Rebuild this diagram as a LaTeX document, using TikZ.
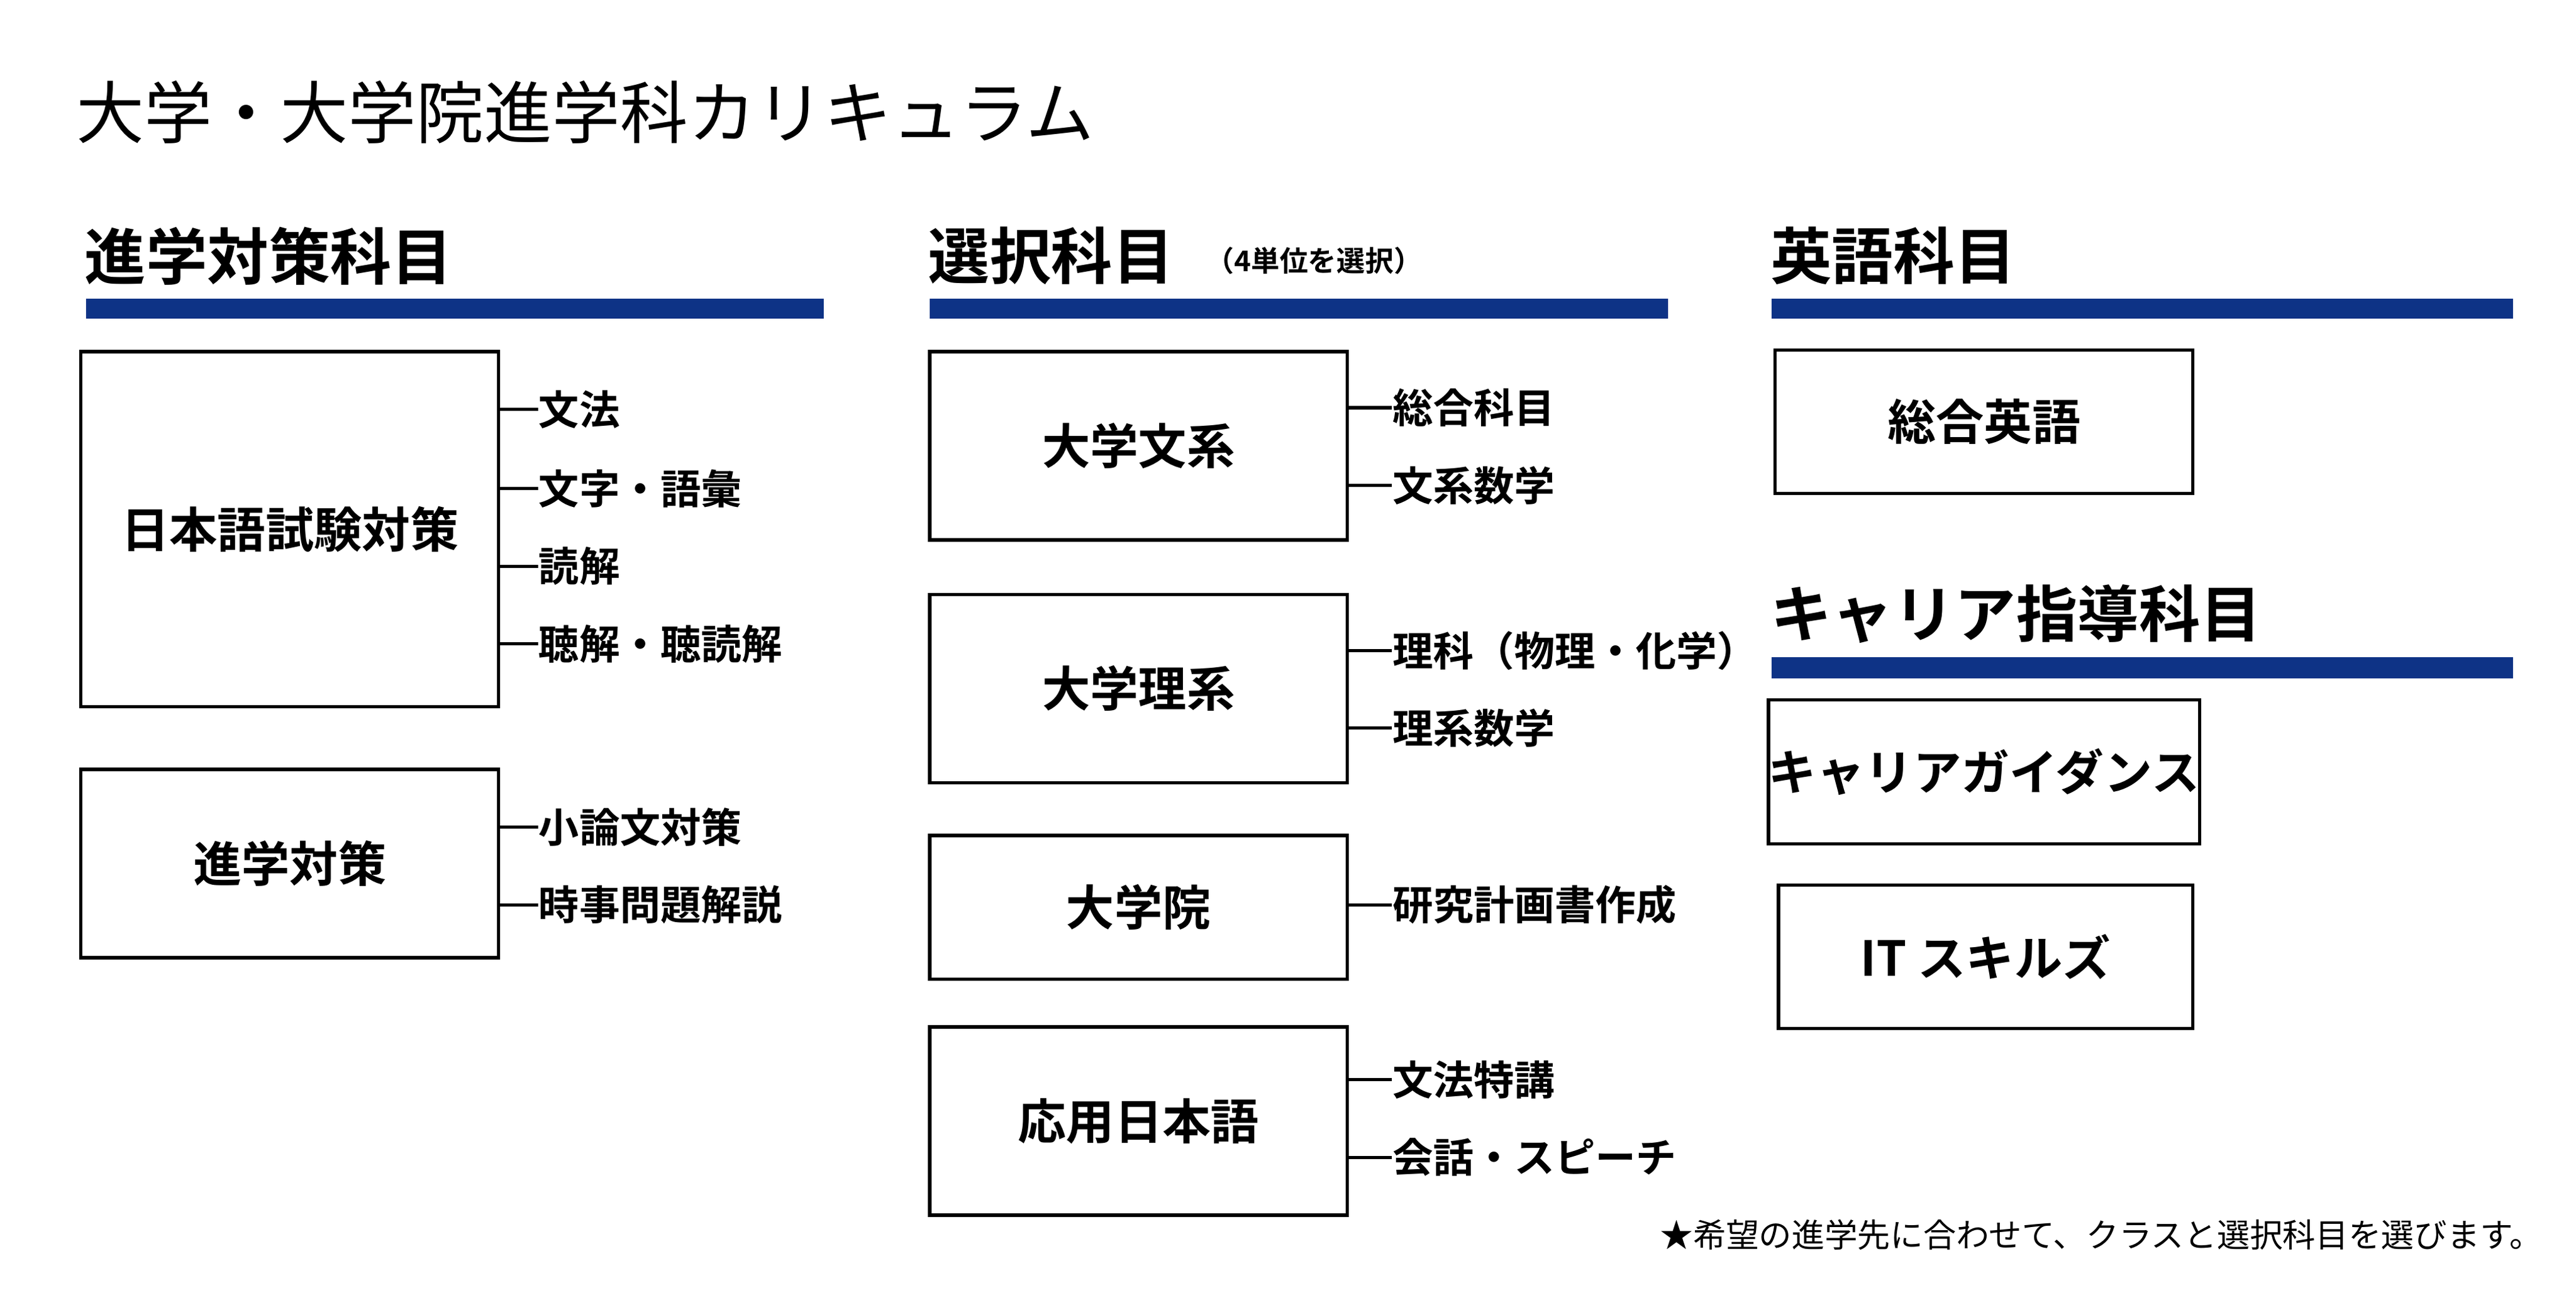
\documentclass[tikz,border=0pt]{standalone}
\usepackage{fontspec}
\setmainfont{Noto Sans CJK JP}
\newfontfamily\jpbold{Noto Sans CJK JP Bold}
\usetikzlibrary{positioning}
\definecolor{barblue}{HTML}{0E3386}
\tikzset{
  box/.style={draw,line width=1.5pt,inner sep=0pt,font=\jpbold\fontsize{22}{24}\selectfont},
  item/.style={anchor=west,inner sep=0pt,font=\jpbold\fontsize{18.5}{20}\selectfont},
  head/.style={anchor=west,inner sep=0pt,font=\jpbold\fontsize{28}{30}\selectfont},
  bar/.style={fill=barblue,draw=none},
  dot/.style={line width=1.5pt}
}
\newcommand{\linkitem}[2]{%
  \fill (#1.east |- #2) circle (0.15);
  \draw[dot] (#1.east |- #2) -- (#2.west);
}
\begin{document}
\begin{tikzpicture}[x=0.02648cm,y=-0.02648cm]
\useasboundingbox (0,0) rectangle (1560,787);
% title
\node[anchor=west,inner sep=0pt,font=\fontsize{31}{33}\selectfont] (title) at (46,68) {大学・大学院進学科カリキュラム};
% headings
\node[head] (h1) at (51,155) {進学対策科目};
\node[head] (h2) at (562,155) {選択科目};
\node[anchor=west,inner sep=0pt,font=\jpbold\fontsize{13}{15}\selectfont] (h2s) at (730,158) {（4単位を選択）};
\node[head] (h3) at (1072,155) {英語科目};
\node[head] (h4) at (1072,372) {キャリア指導科目};
\fill[bar] (52,181) rectangle (499,193);
\fill[bar] (563,181) rectangle (1010,193);
\fill[bar] (1073,181) rectangle (1522,193);
\fill[bar] (1073,398) rectangle (1522,411);
% boxes
\node[box,minimum width=253*0.02648cm,minimum height=215*0.02648cm] (jlpt) at (175.5,320.5) {日本語試験対策};
\node[box,minimum width=253*0.02648cm,minimum height=114*0.02648cm] (shin) at (175.5,523) {進学対策};
\node[box,minimum width=253*0.02648cm,minimum height=114*0.02648cm] (bun) at (689.5,270) {大学文系};
\node[box,minimum width=253*0.02648cm,minimum height=114*0.02648cm] (ri) at (689.5,417) {大学理系};
\node[box,minimum width=253*0.02648cm,minimum height=87*0.02648cm] (grad) at (689.5,549.5) {大学院};
\node[box,minimum width=253*0.02648cm,minimum height=114*0.02648cm] (ouyo) at (689.5,679) {応用日本語};
\node[box,minimum width=253*0.02648cm,minimum height=87*0.02648cm] (eng) at (1201.5,255.5) {総合英語};
\node[box,minimum width=253*0.02648cm,minimum height=87*0.02648cm] (guide) at (1201.5,467.5) {キャリアガイダンス};
\node[box,minimum width=251*0.02648cm,minimum height=87*0.02648cm] (it) at (1202.5,579.5) {IT スキルズ};
% items
\node[item] (i1) at (326,248) {文法};
\node[item] (i2) at (326,296) {文字・語彙};
\node[item] (i3) at (326,343) {読解};
\node[item] (i4) at (326,390) {聴解・聴読解};
\node[item] (i5) at (326,501) {小論文対策};
\node[item] (i6) at (326,548) {時事問題解説};
\node[item] (i7) at (843,247) {総合科目};
\node[item] (i8) at (843,294) {文系数学};
\node[item] (i9) at (843,394) {理科（物理・化学）};
\node[item] (i10) at (843,441) {理系数学};
\node[item] (i11) at (843,548) {研究計画書作成};
\node[item] (i12) at (843,654) {文法特講};
\node[item] (i13) at (843,701) {会話・スピーチ};
\foreach \b/\i in {jlpt/i1,jlpt/i2,jlpt/i3,jlpt/i4,shin/i5,shin/i6,bun/i7,bun/i8,ri/i9,ri/i10,grad/i11,ouyo/i12,ouyo/i13}{
  \linkitem{\b}{\i}
}
% note
\node[anchor=east,inner sep=0pt,font=\fontsize{15}{17}\selectfont] (note) at (1540,748) {★希望の進学先に合わせて、クラスと選択科目を選びます。};
\end{tikzpicture}
\end{document}
